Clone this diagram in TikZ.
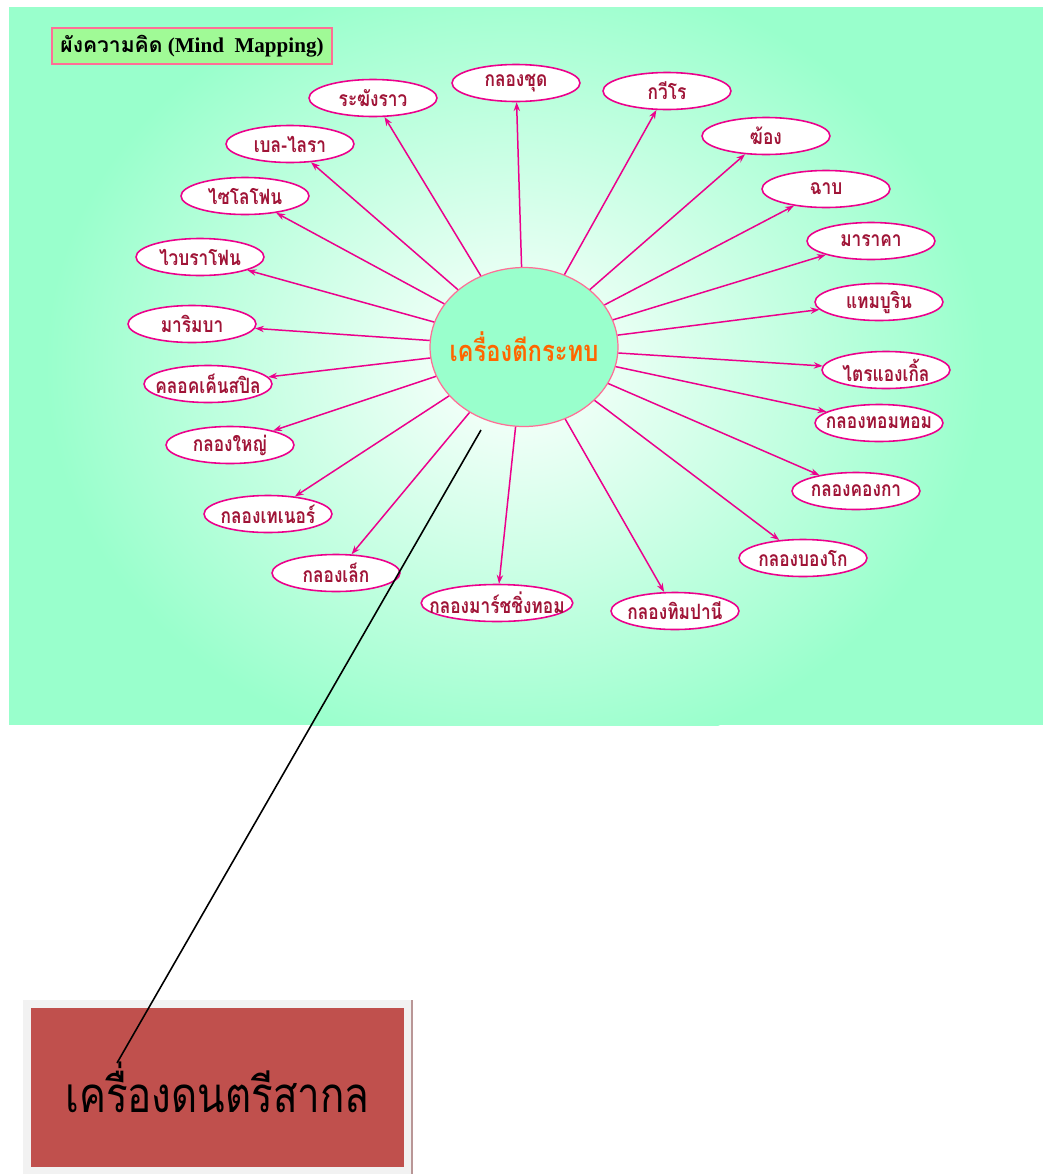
\documentclass[tikz,border=0pt]{standalone}
\usepackage{fontspec}
\setmainfont{Liberation Serif}
\newfontfamily\thaifont[Script=Thai]{Loma}
\newfontfamily\thaitall[Script=Thai,FakeStretch=0.82]{Loma}
\usetikzlibrary{arrows.meta,shapes.geometric}
\definecolor{mint}{RGB}{153,255,204}
\definecolor{leafgreen}{RGB}{160,250,150}
\definecolor{rosy}{RGB}{255,110,150}
\definecolor{wine}{RGB}{160,20,55}
\definecolor{hubtext}{RGB}{255,102,0}
\definecolor{brick}{RGB}{192,80,77}
\definecolor{framegray}{RGB}{242,242,242}
\definecolor{frameedge}{RGB}{185,150,150}
\tikzset{
  sat/.style={ellipse,draw=magenta,line width=0.9pt,fill=white,
    minimum height=0.74cm,inner xsep=-8pt,inner ysep=0pt,
    text=wine,font=\thaitall\bfseries\fontsize{12}{13}\selectfont},
  hub/.style={ellipse,draw=rosy,line width=0.7pt,fill=mint,
    minimum width=3.76cm,minimum height=3.18cm,inner xsep=-8pt,inner ysep=0pt,
    text=hubtext,font=\thaitall\bfseries\fontsize{16.5}{18}\selectfont},
  spoke/.style={->,magenta,line width=0.85pt},
  titlebox/.style={draw=rosy,line width=0.8pt,fill=leafgreen,
    minimum width=5.6cm,minimum height=0.72cm,font=\bfseries\fontsize{12}{14}\selectfont},
  westbox/.style={fill=brick,minimum width=7.46cm,minimum height=3.18cm,
    font=\thaitall\fontsize{28}{30}\selectfont}
}
\begin{document}
\begin{tikzpicture}[x=0.02cm,y=-0.02cm,>={Stealth[length=5pt,width=3.6pt]}]
\useasboundingbox (0,0) rectangle (1043,1174);
% background with soft glow
\begin{scope}
  \clip (9,7) rectangle (1043,725);
  \fill[mint] (9,7) rectangle (1043,725);
  \shade[inner color=white,outer color=mint] (515,365) ellipse (470 and 400);
\end{scope}
\node[titlebox] (title) at (192,46) {{\thaifont ผังความคิด} (Mind\ \ Mapping)};
% centre and instruments
\node[hub] (hub) at (524,347) {เครื่องตีกระทบ};
\foreach \i/\x/\y/\w/\t in {1/516/83/2.56/กลองชุด,2/667/91/2.56/กวีโร,3/766/136/2.56/ฆ้อง,
  4/826/189/2.56/ฉาบ,5/871/241/2.56/มาราคา,6/879/302/2.56/แทมบูริน,7/886/370/2.56/ไตรแองเกิ้ล,
  8/879/423/2.56/กลองทอมทอม,9/856/491/2.56/กลองคองกา,10/803/558/2.56/กลองบองโก,
  11/675/611/2.56/กลองทิมปานี,12/497/603/3.02/กลองมาร์ชชิ่งทอม,13/336/573/2.56/กลองเล็ก,
  14/268/514/2.56/กลองเทเนอร์,15/230/445/2.56/กลองใหญ่,16/208/384/2.56/คลอคเค็นสปิล,
  17/192/324/2.56/มาริมบา,18/200/257/2.56/ไวบราโฟน,19/245/196/2.56/ไซโลโฟน,
  20/290/144/2.56/เบล-ไลรา,21/373/98/2.56/ระฆังราว}
  \node[sat,minimum width=\w cm] (s\i) at (\x,\y) {\t};
\foreach \i in {1,...,21} \draw[spoke] (hub) -- (s\i);
% callout box
\fill[framegray] (23,1000) rectangle (413,1174);
\draw[frameedge,line width=1.2pt] (412,1000) -- (412,1174);
\node[westbox] (west) at (217.5,1087.5) {เครื่องดนตรีสากล};
\coordinate (tail) at (481,430);
\coordinate (tip) at (117,1063);
\draw[line width=0.9pt] (tail) -- (tip);
\end{tikzpicture}
\end{document}
